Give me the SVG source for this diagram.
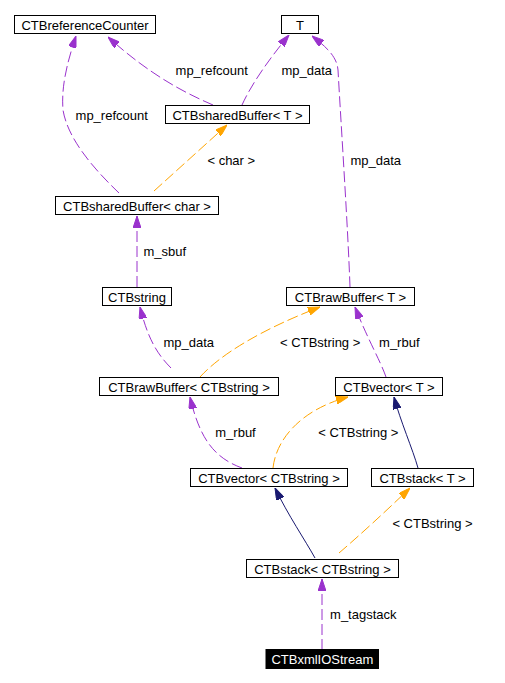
<svg xmlns="http://www.w3.org/2000/svg" width="505" height="683" viewBox="0 0 505 683">
<style>
.node rect{fill:#fff;stroke:#000;stroke-width:1}
.node text{font-family:"Liberation Sans",Arial,sans-serif;font-size:13px;text-anchor:middle;fill:#000}
.node.hl rect{fill:#000}
.node.hl text{fill:#fff}
.e{fill:none;stroke-width:1}
.p{stroke:#9a32cd;stroke-dasharray:11,4}
.o{stroke:#ffa500;stroke-dasharray:11,4}
.n{stroke:#191970}
.lbl{font-family:"Liberation Sans",Arial,sans-serif;font-size:13px;text-anchor:middle;fill:#000}
</style>
<defs>
<marker id="ap" markerUnits="userSpaceOnUse" markerWidth="12" markerHeight="8" refX="12" refY="4" orient="auto"><path d="M0,0 L12,4 L0,8 z" fill="#9a32cd" stroke="#9a32cd" stroke-width="1"/></marker>
<marker id="ao" markerUnits="userSpaceOnUse" markerWidth="12" markerHeight="8" refX="12" refY="4" orient="auto"><path d="M0,0 L12,4 L0,8 z" fill="#ffa500" stroke="#ffa500" stroke-width="1"/></marker>
<marker id="an" markerUnits="userSpaceOnUse" markerWidth="12" markerHeight="8" refX="12" refY="4" orient="auto"><path d="M0,0 L12,4 L0,8 z" fill="#191970" stroke="#191970" stroke-width="1"/></marker>
</defs>
<rect width="505" height="683" fill="#fff"/>
<g id="edges">
<path class="e p" marker-end="url(#ap)" d="M213,105 C185,93 150,75 108,37"/>
<path class="e p" marker-end="url(#ap)" d="M242,105 C252,83 270,58 289,35"/>
<path class="e p" marker-end="url(#ap)" d="M119,193 C95,170 68,140 63,110 C61,85 68,60 76,36"/>
<path class="e o" marker-end="url(#ao)" d="M154,191 L227,125"/>
<path class="e p" marker-end="url(#ap)" d="M350,287 C348,230 342,140 338,70 C337,56 325,46 312,36"/>
<path class="e p" marker-end="url(#ap)" d="M137,287 L137,216"/>
<path class="e p" marker-end="url(#ap)" d="M171,368 C155,352 147,335 140,307"/>
<path class="e o" marker-end="url(#ao)" d="M200,377 C220,355 260,330 320,307"/>
<path class="e p" marker-end="url(#ap)" d="M386,377 C380,360 368,340 355,307"/>
<path class="e p" marker-end="url(#ap)" d="M242,468 C215,458 200,440 190,397"/>
<path class="e o" marker-end="url(#ao)" d="M273,468 C276,440 300,410 348,397"/>
<path class="e n" marker-end="url(#an)" d="M418,468 C413,450 400,420 394,397"/>
<path class="e n" marker-end="url(#an)" d="M315,558 C305,540 288,515 275,488"/>
<path class="e o" marker-end="url(#ao)" d="M339,553 C360,535 385,512 410,488"/>
<path class="e p" marker-end="url(#ap)" d="M322,650 L322,579"/>
<text class="lbl" x="211.7" y="75">mp_refcount</text>
<text class="lbl" x="306.8" y="75">mp_data</text>
<text class="lbl" x="111.7" y="120">mp_refcount</text>
<text class="lbl" x="231.3" y="165">&lt; char &gt;</text>
<text class="lbl" x="375.7" y="165">mp_data</text>
<text class="lbl" x="164.7" y="256">m_sbuf</text>
<text class="lbl" x="188.7" y="347">mp_data</text>
<text class="lbl" x="320.2" y="347">&lt; CTBstring &gt;</text>
<text class="lbl" x="399.3" y="347">m_rbuf</text>
<text class="lbl" x="235.5" y="437">m_rbuf</text>
<text class="lbl" x="358.3" y="437">&lt; CTBstring &gt;</text>
<text class="lbl" x="432.5" y="528">&lt; CTBstring &gt;</text>
<text class="lbl" x="363.3" y="619">m_tagstack</text>
</g>
<g id="CTBreferenceCounter" class="node"><rect x="14.5" y="15.5" width="141" height="18"/><text x="85" y="29.5">CTBreferenceCounter</text></g>
<g id="T" class="node"><rect x="281.5" y="15.5" width="37" height="18"/><text x="300" y="29.5">T</text></g>
<g id="CTBsharedBuffer_T" class="node"><rect x="165.5" y="105.5" width="144" height="18"/><text x="237.5" y="120">CTBsharedBuffer&lt; T &gt;</text></g>
<g id="CTBsharedBuffer_char" class="node"><rect x="55.5" y="196.5" width="163" height="18"/><text x="137" y="211">CTBsharedBuffer&lt; char &gt;</text></g>
<g id="CTBstring" class="node"><rect x="102.5" y="287.5" width="69" height="18"/><text x="137" y="302">CTBstring</text></g>
<g id="CTBrawBuffer_T" class="node"><rect x="286.5" y="287.5" width="128" height="18"/><text x="350.5" y="302">CTBrawBuffer&lt; T &gt;</text></g>
<g id="CTBrawBuffer_CTBstring" class="node"><rect x="99.5" y="377.5" width="179" height="18"/><text x="189" y="392">CTBrawBuffer&lt; CTBstring &gt;</text></g>
<g id="CTBvector_T" class="node"><rect x="335.5" y="377.5" width="107" height="18"/><text x="389" y="392">CTBvector&lt; T &gt;</text></g>
<g id="CTBvector_CTBstring" class="node"><rect x="190.5" y="468.5" width="157" height="18"/><text x="269" y="483">CTBvector&lt; CTBstring &gt;</text></g>
<g id="CTBstack_T" class="node"><rect x="371.5" y="468.5" width="102" height="18"/><text x="422.5" y="483">CTBstack&lt; T &gt;</text></g>
<g id="CTBstack_CTBstring" class="node"><rect x="246.5" y="559.5" width="152" height="18"/><text x="322.5" y="574">CTBstack&lt; CTBstring &gt;</text></g>
<g id="CTBxmlIOStream" class="node hl"><rect x="266" y="649.5" width="112.5" height="19"/><text x="322.3" y="664">CTBxmlIOStream</text></g>
</svg>
